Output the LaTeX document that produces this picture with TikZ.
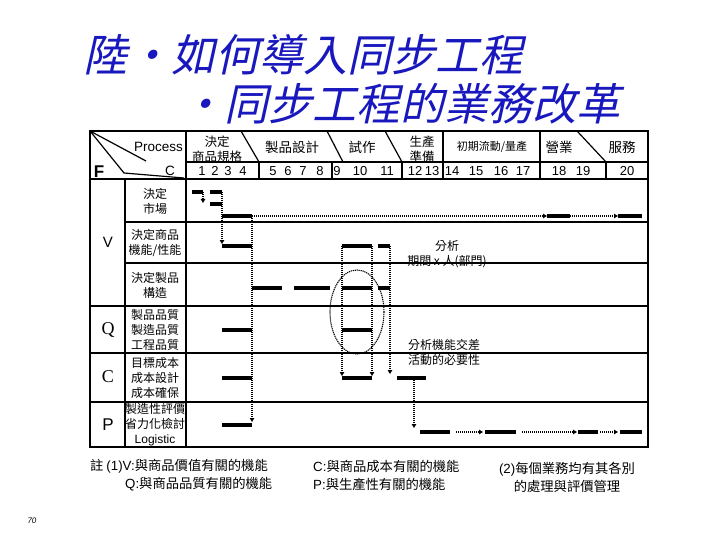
\documentclass[tikz,border=0pt]{standalone}
\usepackage{fontspec}
\setmainfont{Noto Sans CJK TC}
\newfontfamily\lat{Liberation Sans}
\newfontfamily\tms{Liberation Serif}
\newfontfamily\titlefont[FakeSlant=0.22]{Noto Sans CJK TC}
\usepackage{xcolor}
\usepackage{tikz}
\usetikzlibrary{arrows.meta,positioning}
\definecolor{titleblue}{RGB}{24,24,190}

\begin{document}
\begin{tikzpicture}[x=1pt,y=-1pt,
    grid/.style={line width=1.8pt},
    thingrid/.style={line width=1.2pt},
    bar/.style={line width=3.6pt},
    link/.style={line width=1.2pt, dash pattern=on 1pt off 1pt, -{Triangle[length=4pt,width=4.5pt]}},
    hdr/.style={font=\fontsize{13.5}{15}\selectfont, align=center, inner sep=0pt},
    num/.style={font=\lat\fontsize{13}{13}\selectfont, inner sep=0pt},
    item/.style={font=\fontsize{12}{15}\selectfont, align=center, inner sep=0pt},
    tag/.style={inner sep=0pt},
    note/.style={font=\fontsize{13.3}{16}\selectfont, inner sep=0pt, anchor=west}
]
\useasboundingbox (0,0) rectangle (720,540);

%% Title
\node[font=\titlefont\fontsize{44}{44}\selectfont, text=titleblue, anchor=west, inner sep=0pt] (title1) at (83,55) {陸・如何導入同步工程};
\node[font=\titlefont\fontsize{44}{44}\selectfont, text=titleblue, anchor=west, inner sep=0pt] (title2) at (180,104) {・同步工程的業務改革};

%% Table frame
\draw[grid] (90,131) rectangle (648,447);
\draw[thingrid] (186,162) -- (648,162);
\draw[line width=2.4pt] (90,179) -- (648,179);
\draw[grid] (186,131) -- (186,447);
\draw[grid] (125,179) -- (125,447);
\foreach \x in {259,332,402,443,540,606}
    \draw[grid] (\x,162) -- (\x,179);
\draw[thingrid] (241,131) -- (259,162);
\draw[thingrid] (327,131) -- (343,162);
\draw[thingrid] (385,131) -- (402,162);
\draw[thingrid] (443,131) -- (443,162);
\draw[thingrid] (540,131) -- (540,162);
\draw[thingrid] (577,131) -- (606,162);
\foreach \y in {222,263}
    \draw[grid] (125,\y) -- (648,\y);
\foreach \y in {306,353,402}
    \draw[grid] (90,\y) -- (648,\y);

%% Corner cell
\draw[thingrid] (90,131) -- (146,161);
\draw[thingrid] (90,131) -- (124,173) -- (184,178);
\node[font=\lat\bfseries\fontsize{17}{17}\selectfont, tag] (F) at (99,172) {F};
\node[font=\lat\fontsize{13.5}{14}\selectfont, tag, anchor=east] (process) at (183,147) {Process};
\node[font=\lat\fontsize{13.5}{14}\selectfont, tag] (cost) at (170,171) {C};

%% Phase headers
\node[hdr, font=\fontsize{12.5}{15}\selectfont] (decide) at (217,149) {決定\\商品規格};
\node[hdr] (design) at (292,147) {製品設計};
\node[hdr] (proto) at (362,147) {試作};
\node[hdr, font=\fontsize{12.5}{15}\selectfont] (prep) at (422,149) {生產\\準備};
\node[hdr, font=\fontsize{11}{13}\selectfont] (ramp) at (492,147) {初期流動/量產};
\node[hdr] (sales) at (559,147) {營業};
\node[hdr] (service) at (622,147) {服務};

%% Step numbers
\foreach \n/\x in {1/202,2/215,3/228,4/243,5/273,6/288,7/303,8/320,9/337,10/360,
                   11/387,12/415,13/432,14/452,15/476,16/501,17/523,18/559,19/583,20/627}
    \node[num] (n\n) at (\x,171) {\n};

%% Row labels
\node[font=\lat\fontsize{15}{15}\selectfont, tag] (V) at (108,242) {V};
\node[font=\tms\fontsize{18}{18}\selectfont, tag] (Q) at (108,330) {Q};
\node[font=\tms\fontsize{18}{18}\selectfont, tag] (C) at (108,377) {C};
\node[font=\lat\fontsize{17}{17}\selectfont, tag] (P) at (108,425) {P};

\node[item] (market) at (155,201) {決定\\市場};
\node[item] (function) at (155,243) {決定商品\\機能/性能};
\node[item] (structure) at (155,285) {決定製品\\構造};
\node[item] (quality) at (155,330) {製品品質\\製造品質\\工程品質};
\node[item] (target) at (155,378) {目標成本\\成本設計\\成本確保};
\node[item] (produce) at (155,425) {製造性評價\\省力化檢討\\{\lat Logistic}};

%% Market row
\draw[bar] (192,192) -- (203,192);
\draw[link] (203,192) -- (203,203);
\draw[bar] (210,192) -- (222,192);
\draw[bar] (210,204) -- (222,204);
\draw[bar] (222,216) -- (252,216);
\draw[link] (252,216) -- (547,216);
\draw[bar] (547,216) -- (570,216);
\draw[link] (570,216) -- (618,216);
\draw[bar] (618,216) -- (642,216);

%% Function row
\draw[link] (222,192) -- (222,244);
\draw[bar] (222,246) -- (252,246);
\draw[bar] (342,246) -- (372,246);
\draw[bar] (378,246) -- (390,246);

%% Structure row
\draw[bar] (252,288) -- (282,288);
\draw[bar] (294,288) -- (330,288);
\draw[bar] (342,288) -- (372,288);
\draw[bar] (378,288) -- (390,288);

%% Q, C, P rows
\draw[link] (252,216) -- (252,422);
\draw[bar] (222,330) -- (252,330);
\draw[bar] (222,378) -- (252,378);
\draw[bar] (222,425) -- (252,425);
\draw[bar] (342,330) -- (372,330);
\draw[link] (342,246) -- (342,376);
\draw[link] (372,246) -- (372,376);
\draw[link] (390,246) -- (390,374);
\draw[bar] (342,378) -- (372,378);
\draw[bar] (397,378) -- (426,378);
\draw[link] (414,378) -- (414,428);
\draw[bar] (420,432) -- (450,432);
\draw[link] (456,432) -- (483,432);
\draw[bar] (485,432) -- (516,432);
\draw[link] (522,432) -- (577,432);
\draw[bar] (578,432) -- (598,432);
\draw[link] (600,432) -- (618,432);
\draw[bar] (620,432) -- (642,432);

%% Cross-function ellipse
\draw[line width=1.1pt, dash pattern=on 1.2pt off 0.8pt] (357,312) ellipse [x radius=27, y radius=42];

%% Notes in chart
\node[item] (analysis) at (447,254) {分析\\期間 x 人(部門)};
\node[item, align=left, anchor=west] (crossnote) at (408,352) {分析機能交差\\活動的必要性};

%% Footnotes
\node[note] (noteV) at (90,466) {註 {\lat (1)V:}與商品價值有關的機能};
\node[note] (noteQ) at (125,484) {{\lat Q:}與商品品質有關的機能};
\node[note] (noteC) at (313,466) {{\lat C:}與商品成本有關的機能};
\node[note] (noteP) at (313,484) {{\lat P:}與生產性有關的機能};
\node[note, anchor=center, align=center, font=\fontsize{13.3}{18}\selectfont] (note2) at (567,477) {{\lat (2)}每個業務均有其各別\\的處理與評價管理};

\node[font=\lat\itshape\fontsize{8}{8}\selectfont, tag] (pageno) at (32,521) {70};
\end{tikzpicture}
\end{document}
